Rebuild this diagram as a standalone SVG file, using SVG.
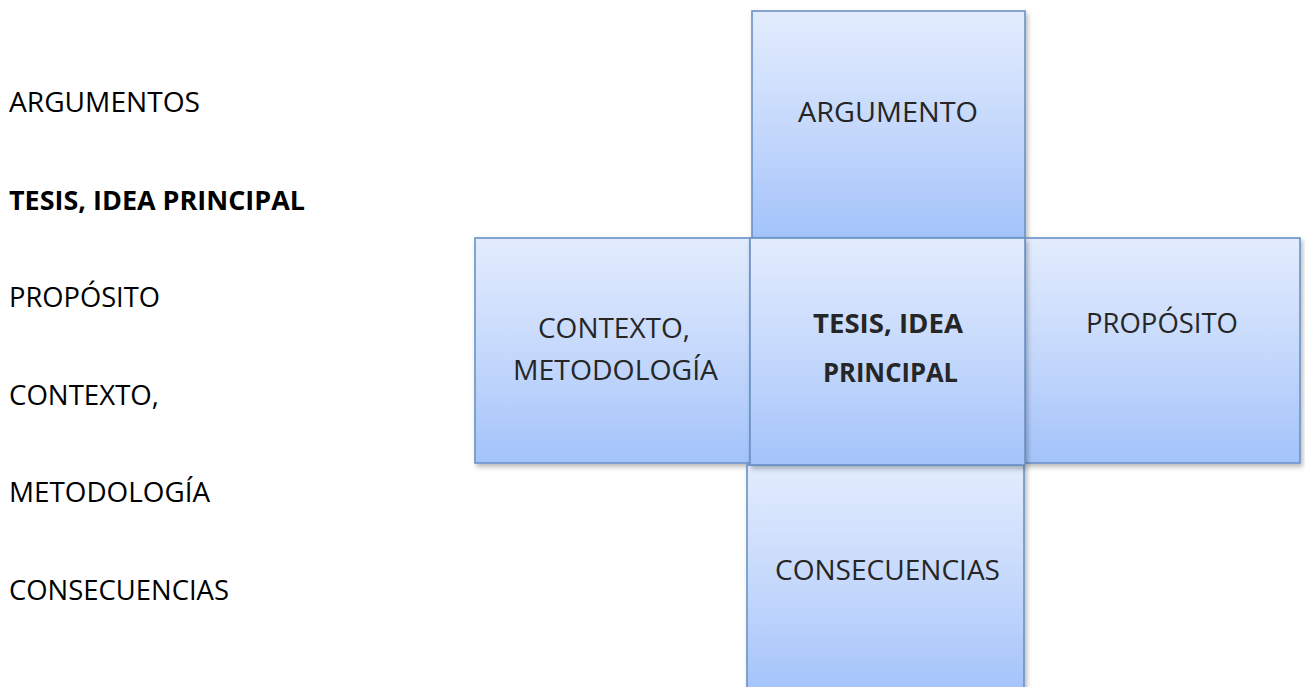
<svg xmlns="http://www.w3.org/2000/svg" width="1305" height="687" viewBox="0 0 1305 687">
  <defs>
    <linearGradient id="g" x1="0" y1="0" x2="0" y2="1">
      <stop offset="0" stop-color="#e2ecfd"/>
      <stop offset="0.5" stop-color="#c6d9fc"/>
      <stop offset="1" stop-color="#a3c3fa"/>
    </linearGradient>
    <filter id="sh" x="-10%" y="-10%" width="125%" height="125%">
      <feDropShadow dx="2" dy="3" stdDeviation="2.5" flood-color="#000" flood-opacity="0.28"/>
    </filter>
    <style>
      .box { fill: url(#g); stroke: #6a92c6; stroke-width: 1.6; filter: url(#sh); }
      .lt { font-family: "Open Sans", "Noto Sans", "Liberation Sans", sans-serif; font-size: 27px; fill: #000; }
      .bt { font-family: "Open Sans", "Noto Sans", "Liberation Sans", sans-serif; font-size: 27px; fill: #262626; }
      .b { font-weight: bold; }
    </style>
  </defs>
  <rect width="1305" height="687" fill="#ffffff"/>

  <g id="list">
    <text class="lt" x="9" y="112" textLength="191" lengthAdjust="spacingAndGlyphs">ARGUMENTOS</text>
    <text class="lt b" x="9" y="210" textLength="296" lengthAdjust="spacingAndGlyphs">TESIS, IDEA PRINCIPAL</text>
    <text class="lt" x="9" y="307" textLength="151" lengthAdjust="spacingAndGlyphs">PROPÓSITO</text>
    <text class="lt" x="9" y="405" textLength="150" lengthAdjust="spacingAndGlyphs">CONTEXTO,</text>
    <text class="lt" x="9" y="502" textLength="201" lengthAdjust="spacingAndGlyphs">METODOLOGÍA</text>
    <text class="lt" x="9" y="600" textLength="220" lengthAdjust="spacingAndGlyphs">CONSECUENCIAS</text>
  </g>

  <g id="connectors"></g>

  <g id="node-argumento">
    <rect class="box" x="752" y="11" width="273" height="227"/>
    <text class="bt" x="798" y="122" textLength="180" lengthAdjust="spacingAndGlyphs">ARGUMENTO</text>
  </g>
  <g id="node-contexto">
    <rect class="box" x="475" y="238" width="275" height="225"/>
    <text class="bt" x="538" y="338" textLength="152" lengthAdjust="spacingAndGlyphs">CONTEXTO,</text>
    <text class="bt" x="513" y="380" textLength="205" lengthAdjust="spacingAndGlyphs">METODOLOGÍA</text>
  </g>
  <g id="node-proposito">
    <rect class="box" x="1025" y="238" width="275" height="225"/>
    <text class="bt" x="1086" y="333" textLength="152" lengthAdjust="spacingAndGlyphs">PROPÓSITO</text>
  </g>
  <g id="node-consecuencias">
    <rect class="box" x="747" y="465" width="277" height="230"/>
    <text class="bt" x="775" y="580" textLength="225" lengthAdjust="spacingAndGlyphs">CONSECUENCIAS</text>
  </g>
  <g id="node-tesis">
    <rect class="box" x="750" y="238" width="275" height="227"/>
    <text class="bt b" x="813" y="333" textLength="150" lengthAdjust="spacingAndGlyphs">TESIS, IDEA</text>
    <text class="bt b" x="823" y="382" textLength="135" lengthAdjust="spacingAndGlyphs">PRINCIPAL</text>
  </g>
</svg>
